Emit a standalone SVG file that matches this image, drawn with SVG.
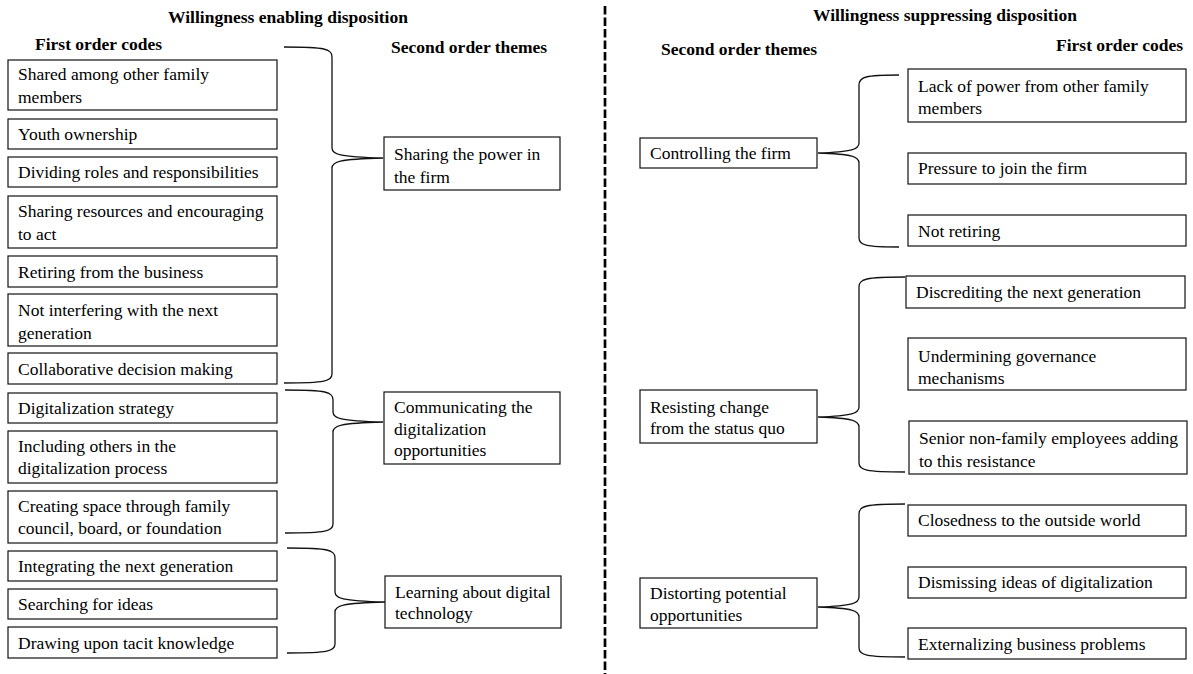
<svg xmlns="http://www.w3.org/2000/svg" width="1193" height="674" viewBox="0 0 1193 674">
<style>
text{font-family:"Liberation Serif","Times New Roman",serif;font-size:17.5px;fill:#000}
.h{font-weight:bold}
.box{fill:#fff;stroke:#111;stroke-width:1.2}
.br{fill:none;stroke:#111;stroke-width:1.3}
</style>
<rect width="1193" height="674" fill="#fff"/>
<g id="headers">
<text class="h" x="288" y="23" text-anchor="middle">Willingness enabling disposition</text>
<text class="h" x="35" y="50">First order codes</text>
<text class="h" x="391" y="53">Second order themes</text>
<text class="h" x="945" y="21" text-anchor="middle">Willingness suppressing disposition</text>
<text class="h" x="661" y="55">Second order themes</text>
<text class="h" x="1056" y="51">First order codes</text>
</g>
<g id="divider"><line x1="605" y1="6" x2="605" y2="674" stroke="#000" stroke-width="2.7" stroke-dasharray="8.5 3"/></g>
<g id="connectors">
<path class="br" d="M284 47 C326 47 332 49 332 57 L332 148 C332 154 338 157 383 158 C338 159 332 162 332 168 L332 374 C332 381 326 383 284 383"/>
<path class="br" d="M285 390 C327 390 333 392 333 400 L333 412 C333 418 339 421 383 422 C339 423 333 426 333 432 L333 524 C333 531 327 533 285 533"/>
<path class="br" d="M287 548 C329 548 335 550 335 558 L335 592 C335 598 341 601 385 602 C341 603 335 606 335 612 L335 644 C335 651 329 653 287 653"/>
<path class="br" d="M899 75 C865 75 859 77 859 85 L859 143 C859 149 853 152 818 153 C853 154 859 157 859 163 L859 238 C859 245 865 247 899 247"/>
<path class="br" d="M905 277 C865 277 859 279 859 287 L859 407 C859 413 853 416 818 417 C853 418 859 421 859 427 L859 463 C859 470 865 472 905 472"/>
<path class="br" d="M905 504 C865 504 859 506 859 514 L859 597 C859 603 853 606 818 607 C853 608 859 611 859 617 L859 648 C859 655 865 657 905 657"/>
</g>
<g id="c1"><rect class="box" x="8" y="60" width="269" height="50"/><text x="18" y="80">Shared among other family</text><text x="18" y="103">members</text></g>
<g id="c2"><rect class="box" x="8" y="119" width="269" height="30"/><text x="18" y="140">Youth ownership</text></g>
<g id="c3"><rect class="box" x="8" y="157" width="269" height="30"/><text x="18" y="178">Dividing roles and responsibilities</text></g>
<g id="c4"><rect class="box" x="8" y="196" width="269" height="52"/><text x="18" y="217">Sharing resources and encouraging</text><text x="18" y="240">to act</text></g>
<g id="c5"><rect class="box" x="8" y="256" width="269" height="31"/><text x="18" y="278">Retiring from the business</text></g>
<g id="c6"><rect class="box" x="8" y="294" width="269" height="52"/><text x="18" y="316">Not interfering with the next</text><text x="18" y="339">generation</text></g>
<g id="c7"><rect class="box" x="8" y="353" width="269" height="31"/><text x="18" y="375">Collaborative decision making</text></g>
<g id="c8"><rect class="box" x="8" y="393" width="269" height="30"/><text x="18" y="414">Digitalization strategy</text></g>
<g id="c9"><rect class="box" x="8" y="431" width="269" height="52"/><text x="18" y="452">Including others in the</text><text x="18" y="474">digitalization process</text></g>
<g id="c10"><rect class="box" x="8" y="491" width="269" height="52"/><text x="18" y="512">Creating space through family</text><text x="18" y="534">council, board, or foundation</text></g>
<g id="c11"><rect class="box" x="8" y="551" width="269" height="30"/><text x="18" y="572">Integrating the next generation</text></g>
<g id="c12"><rect class="box" x="8" y="589" width="269" height="30"/><text x="18" y="610">Searching for ideas</text></g>
<g id="c13"><rect class="box" x="8" y="627" width="269" height="31"/><text x="18" y="649">Drawing upon tacit knowledge</text></g>
<g id="t1"><rect class="box" x="384" y="137" width="176" height="53"/><text x="394" y="160">Sharing the power in</text><text x="394" y="183">the firm</text></g>
<g id="t2"><rect class="box" x="384" y="392" width="176" height="72"/><text x="394" y="413">Communicating the</text><text x="394" y="435">digitalization</text><text x="394" y="456">opportunities</text></g>
<g id="t3"><rect class="box" x="385" y="576" width="176" height="52"/><text x="395" y="598">Learning about digital</text><text x="395" y="619">technology</text></g>
<g id="rt1"><rect class="box" x="640" y="138" width="177" height="30"/><text x="650" y="159">Controlling the firm</text></g>
<g id="rt2"><rect class="box" x="640" y="390" width="177" height="53"/><text x="650" y="413">Resisting change</text><text x="650" y="434">from the status quo</text></g>
<g id="rt3"><rect class="box" x="640" y="578" width="177" height="50"/><text x="650" y="599">Distorting potential</text><text x="650" y="621">opportunities</text></g>
<g id="rc1"><rect class="box" x="908" y="69" width="278" height="53"/><text x="918" y="92">Lack of power from other family</text><text x="918" y="114">members</text></g>
<g id="rc2"><rect class="box" x="908" y="153" width="278" height="31"/><text x="918" y="174">Pressure to join the firm</text></g>
<g id="rc3"><rect class="box" x="908" y="215" width="278" height="31"/><text x="918" y="237">Not retiring</text></g>
<g id="rc4"><rect class="box" x="906" y="276" width="279" height="32"/><text x="916" y="298">Discrediting the next generation</text></g>
<g id="rc5"><rect class="box" x="908" y="338" width="278" height="52"/><text x="918" y="362">Undermining governance</text><text x="918" y="384">mechanisms</text></g>
<g id="rc6"><rect class="box" x="909" y="421" width="278" height="53"/><text x="919" y="444">Senior non-family employees adding</text><text x="919" y="467">to this resistance</text></g>
<g id="rc7"><rect class="box" x="908" y="505" width="278" height="31"/><text x="918" y="526">Closedness to the outside world</text></g>
<g id="rc8"><rect class="box" x="908" y="567" width="278" height="31"/><text x="918" y="588">Dismissing ideas of digitalization</text></g>
<g id="rc9"><rect class="box" x="908" y="628" width="278" height="31"/><text x="918" y="650">Externalizing business problems</text></g>
</svg>
